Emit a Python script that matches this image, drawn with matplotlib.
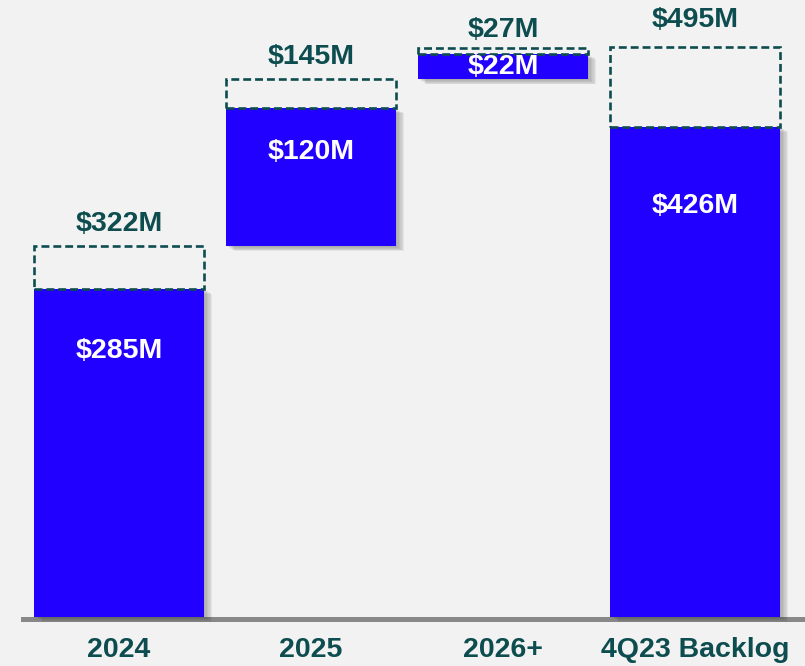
import matplotlib.pyplot as plt
import matplotlib.patheffects as pe
from matplotlib.patches import Rectangle

# backlog conversion by year ($M)
categories = ["2024", "2025", "2026+", "4Q23 Backlog"]
solid = [285, 120, 22, 426]        # converted (blue bars)
total = [322, 145, 27, 495]        # full amount (dashed outline)
# each yearly step starts where the previous dashed total ends
starts = [0, 322, 322 + 145, 0]
# where the white value sits, measured down from the bar top
inner_drop = [54, 38, 11, 69]
# gap between the dashed box and its label, in points
top_gap = [7, 7, 4, 10]

blue = "#2200FF"
teal = "#0E4D4F"
bg = "#F2F2F2"

plt.rcParams["font.family"] = ["Liberation Sans", "DejaVu Sans"]

fig = plt.figure(figsize=(8.05, 6.66), dpi=100, facecolor=bg)
ax = fig.add_axes([0, 0, 1, 1])
ax.set_facecolor(bg)
ax.set_xlim(-0.62, 3.573)
ax.set_ylim(-42.6, 536)
ax.axis("off")

width = 0.885
# soft drop shadow built from a few faint offset copies
shadow = [pe.SimplePatchShadow(offset=(k, -k * 0.6), shadow_rgbFace="#333333", alpha=0.07)
          for k in range(6, 0, -1)] + [pe.Normal()]

for i, cat in enumerate(categories):
    b = starts[i]
    bar = ax.bar(i, solid[i], width=width, bottom=b, color=blue, zorder=3)
    for p in bar:
        p.set_path_effects(shadow)

    box = Rectangle((i - width / 2, b + solid[i]), width, total[i] - solid[i],
                    fill=False, edgecolor=teal, linewidth=1.9,
                    linestyle=(0, (3.0, 1.5)), zorder=4)
    ax.add_patch(box)

    ax.annotate(f"${total[i]}M", (i, b + total[i]), xytext=(0, top_gap[i]),
                textcoords="offset points", ha="center", va="bottom",
                fontsize=20.5, fontweight="bold", color=teal, zorder=5)
    ax.text(i, b + solid[i] - inner_drop[i], f"${solid[i]}M", ha="center",
            va="center", fontsize=20.5, fontweight="bold", color="white", zorder=5)

    ax.text(i, -29, cat, ha="center", va="center", fontsize=20.5,
            fontweight="bold", color=teal)

# baseline
ax.axhline(-1.5, xmin=23 / 805, xmax=1, color="#888888", linewidth=3.6, zorder=2)

fig.savefig("out.png", dpi=100, facecolor=bg)
